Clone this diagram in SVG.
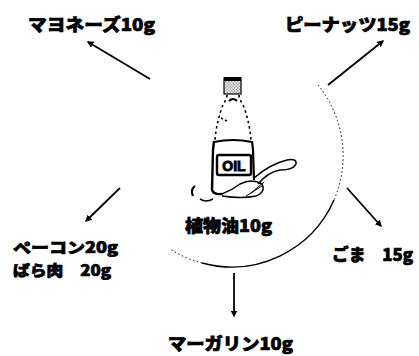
<svg xmlns="http://www.w3.org/2000/svg" width="419" height="356" viewBox="0 0 419 356">
  <defs>
    <marker id="head" viewBox="0 0 10 10" refX="8" refY="5" markerWidth="3.8" markerHeight="3.8" orient="auto" markerUnits="strokeWidth">
      <path d="M0,0 L10,5 L0,10 z" fill="#000"/>
    </marker>
    <pattern id="check" width="3" height="3" patternUnits="userSpaceOnUse">
      <rect width="3" height="3" fill="#fff"/>
      <rect width="1.5" height="1.5" fill="#999"/>
      <rect x="1.5" y="1.5" width="1.5" height="1.5" fill="#999"/>
    </pattern>
  </defs>
  <style>
    .lbl { font-family: "Noto Sans CJK JP", "Noto Sans", sans-serif; font-weight: 900; font-size: 17px; fill: #000; stroke: #000; stroke-width: 0.7; }
    .small { font-size: 15px; }
    .arrow { stroke: #000; stroke-width: 1.8; fill: none; marker-end: url(#head); }
    .ring { fill: none; stroke: #000; }
  </style>
  <rect width="419" height="356" fill="#fff"/>

  <!-- central node: bottle of oil inside the bowl outline -->
  <g id="oil">
    <path class="ring" d="M318,85 A112,112 0 0 1 334,200" stroke-width="1" stroke-dasharray="1.5 2.5"/>
    <path class="ring" d="M334,200 A112,112 0 0 1 202,263" stroke-width="1.4"/>
    <path class="ring" d="M202,263 A112,112 0 0 1 170,249" stroke-width="1" stroke-dasharray="1.5 2.5"/>
    <!-- cap -->
    <rect x="224" y="78" width="17" height="16" fill="url(#check)" stroke="#000" stroke-width="1.2"/>
    <rect x="224" y="77" width="17" height="4" fill="#000"/>
    <!-- shoulders -->
    <path d="M227,95 C227,100 223,103 221,110 C218,120 216,128 215,140" fill="none" stroke="#000" stroke-width="1.6" stroke-dasharray="2.5 3"/>
    <path d="M239,95 C239,100 243,103 245,110 C248,120 250,128 251,140" fill="none" stroke="#000" stroke-width="1.6" stroke-dasharray="2.5 3"/>
    <path d="M229,101 Q233,97 237,101" fill="none" stroke="#000" stroke-width="2"/>
    <path d="M221,118 l2,1 M225,120 l2,1" stroke="#000" stroke-width="1.5"/>
    <!-- body -->
    <path d="M214,142 Q233,138 252,142" fill="none" stroke="#000" stroke-width="2.2"/>
    <path d="M214,141 L213,150 L212,190 Q214,195 222,194" fill="none" stroke="#000" stroke-width="2.4"/>
    <path d="M252,141 L253,150 L254,180" fill="none" stroke="#000" stroke-width="2.2"/>
    <!-- label -->
    <rect x="217" y="155" width="34" height="20" rx="2" fill="none" stroke="#000" stroke-width="2.4"/>
    <text x="234" y="171" text-anchor="middle" font-family="Liberation Sans, sans-serif" font-weight="bold" font-size="14" fill="#000" stroke="#000" stroke-width="0.9">OIL</text>
    <!-- spoon -->
    <path d="M254,178 Q270,164 287,160 Q297,158 296,164 Q294,170 280,170 Q268,172 258,184" fill="none" stroke="#000" stroke-width="1.5"/>
    <path d="M222,194 Q232,190 240,184 Q252,178 262,184 Q266,192 256,196 Q242,199 222,196" fill="none" stroke="#000" stroke-width="1.5"/>
    <path d="M246,196 L262,186 M250,194 L264,182" stroke="#000" stroke-width="1"/>
    <!-- splashes -->
    <path d="M195,186 Q190,190 193,196" fill="none" stroke="#000" stroke-width="2.2"/>
    <path d="M200,199 Q206,203 213,199" fill="none" stroke="#000" stroke-width="1.6"/>
    <text class="lbl" x="185" y="232" textLength="87" lengthAdjust="spacingAndGlyphs">植物油10g</text>
  </g>

  <g id="mayonnaise"><text class="lbl" x="28" y="31" textLength="127" lengthAdjust="spacingAndGlyphs">マヨネーズ10g</text></g>
  <g id="peanuts"><text class="lbl" x="285" y="31" textLength="125" lengthAdjust="spacingAndGlyphs">ピーナッツ15g</text></g>
  <g id="bacon">
    <text class="lbl small" x="13" y="253" textLength="105" lengthAdjust="spacingAndGlyphs">ペーコン20g</text>
    <text class="lbl small" x="13" y="276" textLength="98" lengthAdjust="spacingAndGlyphs">ぱら肉　20g</text>
  </g>
  <g id="sesame"><text class="lbl" x="332" y="261" textLength="81" lengthAdjust="spacingAndGlyphs">ごま　15g</text></g>
  <g id="margarine"><text class="lbl" x="168" y="350" textLength="125" lengthAdjust="spacingAndGlyphs">マーガリン10g</text></g>

  <!-- connectors from the central node -->
  <g id="connectors">
    <line class="arrow" x1="150" y1="79" x2="88" y2="42"/>
    <line class="arrow" x1="328" y1="85" x2="383" y2="41"/>
    <line class="arrow" x1="120" y1="188" x2="86" y2="221"/>
    <line class="arrow" x1="347" y1="188" x2="381" y2="226"/>
    <line class="arrow" x1="234" y1="273" x2="234" y2="316"/>
  </g>
</svg>
